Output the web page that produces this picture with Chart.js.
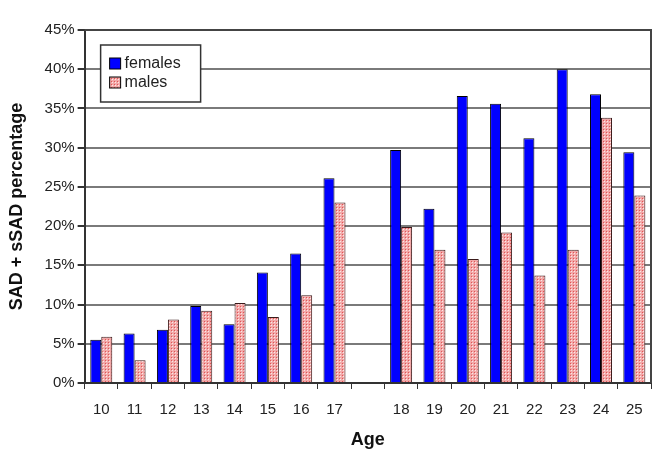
<!DOCTYPE html>
<html>
<head>
<meta charset="utf-8">
<script src="https://cdn.jsdelivr.net/npm/chart.js@4/dist/chart.umd.min.js"></script>
<style>
    html, body { margin: 0; padding: 0; background: #fff; }
    #wrap { width: 659px; height: 457px; position: relative; }
</style>
</head>
<body>
<div id="wrap"><canvas id="ageChart" width="659" height="457"></canvas></div>
<script>
const ages = ['10', '11', '12', '13', '14', '15', '16', '17', '', '18', '19', '20', '21', '22', '23', '24', '25'];
const females = [5.5, 6.3, 6.8, 9.8, 7.5, 14.1, 16.5, 26.1, null, 29.7, 22.2, 36.6, 35.6, 31.2, 40.0, 36.8, 29.4];
const males = [5.9, 2.9, 8.1, 9.2, 10.2, 8.4, 11.2, 23.0, null, 19.9, 17.0, 15.8, 19.2, 13.7, 17.0, 33.8, 23.9];
const yTicks = [0, 5, 10, 15, 20, 25, 30, 35, 40, 45];

document.addEventListener('DOMContentLoaded', function () {
    initAgeChart();
});

function makeDotPattern(ctx) {
    const p = document.createElement('canvas');
    p.width = 3;
    p.height = 3;
    const pc = p.getContext('2d');
    pc.fillStyle = '#f2a8a8';
    pc.fillRect(0, 0, 3, 3);
    pc.fillStyle = '#fde6e6';
    pc.fillRect(1, 1, 1, 1);
    pc.fillStyle = '#e05555';
    pc.fillRect(0, 0, 1, 1);
    return ctx.createPattern(p, 'repeat');
}

const boxLegend = {
    id: 'boxLegend',
    afterDatasetsDraw(chart) {
        const ctx = chart.ctx;
        const area = chart.chartArea;
        const x = area.left + 16;
        const y = area.top + 15;
        ctx.save();
        ctx.fillStyle = '#fff';
        ctx.fillRect(x, y, 100, 57);
        ctx.strokeStyle = '#333';
        ctx.lineWidth = 1.5;
        ctx.strokeRect(x, y, 100, 57);
        ctx.font = '16px "Liberation Sans", Arial, sans-serif';
        ctx.textBaseline = 'middle';
        chart.data.datasets.forEach((ds, i) => {
            const ry = y + 19 + i * 19;
            ctx.fillStyle = ds.backgroundColor;
            ctx.fillRect(x + 9, ry - 6, 11, 11);
            ctx.strokeStyle = '#000';
            ctx.lineWidth = 1;
            ctx.strokeRect(x + 9, ry - 6, 11, 11);
            ctx.fillStyle = '#222';
            ctx.fillText(ds.label, x + 24, ry);
        });
        ctx.restore();
    }
};

const frame = {
    id: 'frame',
    beforeDatasetsDraw(chart) {
        const ctx = chart.ctx;
        const a = chart.chartArea;
        ctx.save();
        ctx.strokeStyle = '#444';
        ctx.lineWidth = 2;
        ctx.beginPath();
        ctx.moveTo(a.left, a.top);
        ctx.lineTo(a.right, a.top);
        ctx.lineTo(a.right, a.bottom);
        ctx.stroke();
        ctx.restore();
    }
};

function initAgeChart() {
    const canvas = document.getElementById('ageChart');
    const ctx = canvas.getContext('2d');
    const font = { family: '"Liberation Sans", Arial, sans-serif', size: 15 };

    new Chart(ctx, {
        type: 'bar',
        data: {
            labels: ages,
            datasets: [{
                label: 'females',
                data: females,
                backgroundColor: '#0000ff',
                borderColor: '#000',
                borderWidth: 1,
                categoryPercentage: 0.66,
                barPercentage: 1
            }, {
                label: 'males',
                data: males,
                backgroundColor: makeDotPattern(ctx),
                borderColor: '#3a1a1a',
                borderWidth: 1,
                categoryPercentage: 0.66,
                barPercentage: 1
            }]
        },
        options: {
            responsive: false,
            animation: false,
            layout: { padding: { top: 30, right: 8, left: 2, bottom: 4 } },
            plugins: {
                legend: { display: false },
                tooltip: { enabled: false }
            },
            scales: {
                x: {
                    grid: {
                        drawOnChartArea: false,
                        color: '#333',
                        tickLength: 6,
                        lineWidth: 1
                    },
                    border: { color: '#333', width: 2 },
                    ticks: { color: '#222', font: font, padding: 12 },
                    title: {
                        display: true,
                        text: 'Age',
                        color: '#111',
                        font: { family: font.family, size: 18, weight: 'bold', lineHeight: 1 },
                        padding: { top: 0 }
                    }
                },
                y: {
                    min: 0,
                    max: 45,
                    afterBuildTicks: axis => {
                        axis.ticks = yTicks.map(v => ({ value: v }));
                    },
                    grid: {
                        color: '#7a7a7a',
                        lineWidth: 2,
                        tickLength: 7,
                        tickColor: '#333'
                    },
                    border: { color: '#333', width: 2 },
                    ticks: {
                        color: '#222',
                        font: font,
                        padding: 3,
                        callback: v => v + '%'
                    },
                    title: {
                        display: true,
                        text: 'SAD + sSAD percentage',
                        color: '#111',
                        font: { family: font.family, size: 18, weight: 'bold' },
                        padding: { bottom: 14 }
                    }
                }
            }
        },
        plugins: [frame, boxLegend]
    });
}
</script>
</body>
</html>
